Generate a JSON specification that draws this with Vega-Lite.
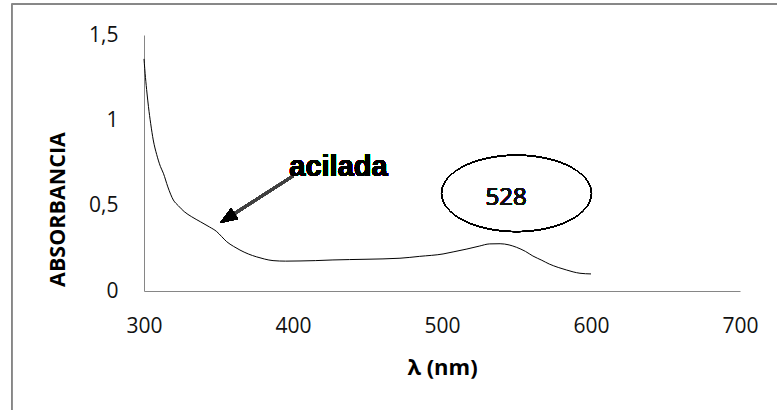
{
  "$schema": "https://vega.github.io/schema/vega-lite/v6.json",
  "width": 596,
  "height": 256,
  "autosize": "none",
  "padding": {"left": 144, "top": 35, "right": 37, "bottom": 119},
  "background": "white",
  "config": {"view": {"stroke": null}},
  "data": {
    "values": [
      {"wl": 300, "abs": 1.36},
      {"wl": 301, "abs": 1.25},
      {"wl": 302, "abs": 1.16},
      {"wl": 303, "abs": 1.08},
      {"wl": 304.5, "abs": 0.98},
      {"wl": 306.2, "abs": 0.885},
      {"wl": 308.5, "abs": 0.8},
      {"wl": 311, "abs": 0.73},
      {"wl": 313, "abs": 0.69},
      {"wl": 316, "abs": 0.61},
      {"wl": 319.7, "abs": 0.533},
      {"wl": 323, "abs": 0.5},
      {"wl": 327, "abs": 0.465},
      {"wl": 332, "abs": 0.435},
      {"wl": 338, "abs": 0.405},
      {"wl": 344, "abs": 0.375},
      {"wl": 348.8, "abs": 0.348},
      {"wl": 352, "abs": 0.32},
      {"wl": 355.5, "abs": 0.289},
      {"wl": 360, "abs": 0.262},
      {"wl": 364.4, "abs": 0.24},
      {"wl": 370, "abs": 0.217},
      {"wl": 375.6, "abs": 0.2},
      {"wl": 381, "abs": 0.187},
      {"wl": 386.6, "abs": 0.178},
      {"wl": 395, "abs": 0.175},
      {"wl": 404.7, "abs": 0.176},
      {"wl": 415, "abs": 0.178},
      {"wl": 426.8, "abs": 0.182},
      {"wl": 449, "abs": 0.186},
      {"wl": 471.8, "abs": 0.192},
      {"wl": 485, "abs": 0.203},
      {"wl": 500.7, "abs": 0.217},
      {"wl": 508, "abs": 0.23},
      {"wl": 516.7, "abs": 0.246},
      {"wl": 525, "abs": 0.263},
      {"wl": 532, "abs": 0.276},
      {"wl": 539, "abs": 0.277},
      {"wl": 545, "abs": 0.27},
      {"wl": 550, "abs": 0.256},
      {"wl": 556, "abs": 0.232},
      {"wl": 561, "abs": 0.205},
      {"wl": 567, "abs": 0.18},
      {"wl": 572, "abs": 0.158},
      {"wl": 578, "abs": 0.138},
      {"wl": 583.6, "abs": 0.123},
      {"wl": 588, "abs": 0.112},
      {"wl": 592.6, "abs": 0.104},
      {"wl": 600, "abs": 0.1}
    ]
  },
  "layer": [
    {
      "mark": {"type": "rect", "fill": null, "stroke": "#878787", "strokeWidth": 1},
      "encoding": {
        "x": {"datum": 211.1, "type": "quantitative"},
        "x2": {"datum": 900},
        "y": {"datum": 1.679, "type": "quantitative"},
        "y2": {"datum": -1}
      }
    },
    {
      "mark": {"type": "line", "color": "black", "strokeWidth": 1, "interpolate": "monotone"},
      "encoding": {
        "x": {
          "field": "wl",
          "type": "quantitative",
          "scale": {"domain": [300, 700], "nice": false, "zero": false},
          "axis": {
            "title": "λ (nm)",
            "values": [300, 400, 500, 600, 700],
            "grid": false,
            "ticks": false,
            "labelFlush": false,
            "labelOverlap": false,
            "domainColor": "#868686",
            "domainWidth": 1,
            "labelFont": "Open Sans",
            "labelFontSize": 21,
            "labelFontWeight": "normal",
            "labelColor": "#111111",
            "labelPadding": 24,
            "titleFont": "Open Sans",
            "titleFontSize": 22,
            "titleFontWeight": "bold",
            "titleColor": "black",
            "titleY": 76,
            "titleBaseline": "middle"
          }
        },
        "y": {
          "field": "abs",
          "type": "quantitative",
          "scale": {"domain": [0, 1.5], "nice": false},
          "axis": {
            "title": "ABSORBANCIA",
            "values": [0, 0.5, 1, 1.5],
            "labelExpr": "replace(toString(datum.value), '.', ',')",
            "grid": false,
            "ticks": false,
            "labelFlush": false,
            "labelOverlap": false,
            "domainColor": "#868686",
            "domainWidth": 1,
            "labelFont": "Open Sans",
            "labelFontSize": 21,
            "labelFontWeight": "normal",
            "labelColor": "#111111",
            "labelPadding": 26,
            "titleFont": "Open Sans",
            "titleFontSize": 21.5,
            "titleFontWeight": "bold",
            "titleColor": "black",
            "titleX": -86,
            "titleY": 174,
            "titleAngle": -90,
            "titleAlign": "center",
            "titleBaseline": "middle"
          }
        }
      }
    },
    {
      "mark": {"type": "point", "shape": "M-1,0A1,0.51,0,1,1,1,0A1,0.51,0,1,1,-1,0Z", "filled": false, "stroke": "black", "strokeWidth": 1, "size": 22500, "opacity": 1},
      "encoding": {
        "x": {"datum": 550, "type": "quantitative"},
        "y": {"datum": 0.572, "type": "quantitative"}
      }
    },
    {
      "mark": {"type": "text", "text": "528", "font": "Open Sans", "fontSize": 24, "fontWeight": "normal", "color": "#111111", "align": "center", "baseline": "alphabetic"},
      "encoding": {
        "x": {"datum": 543, "type": "quantitative"},
        "y": {"datum": 0.504, "type": "quantitative"}
      }
    },
    {
      "mark": {"type": "rule", "color": "#404040", "strokeWidth": 2.5},
      "encoding": {
        "x": {"datum": 400, "type": "quantitative"},
        "y": {"datum": 0.674, "type": "quantitative"},
        "x2": {"datum": 356.5},
        "y2": {"datum": 0.43}
      }
    },
    {
      "mark": {"type": "point", "shape": "M0,-1L-0.75,1L0.75,1Z", "filled": true, "color": "black", "size": 300, "angle": 237, "opacity": 1},
      "encoding": {
        "x": {"datum": 355.9, "type": "quantitative"},
        "y": {"datum": 0.426, "type": "quantitative"}
      }
    },
    {
      "mark": {"type": "text", "text": "acilada", "font": "Liberation Sans", "fontSize": 29, "fontWeight": "bold", "color": "black", "align": "center", "baseline": "alphabetic"},
      "encoding": {
        "x": {"datum": 430.5, "type": "quantitative"},
        "y": {"datum": 0.676, "type": "quantitative"}
      }
    }
  ]
}
